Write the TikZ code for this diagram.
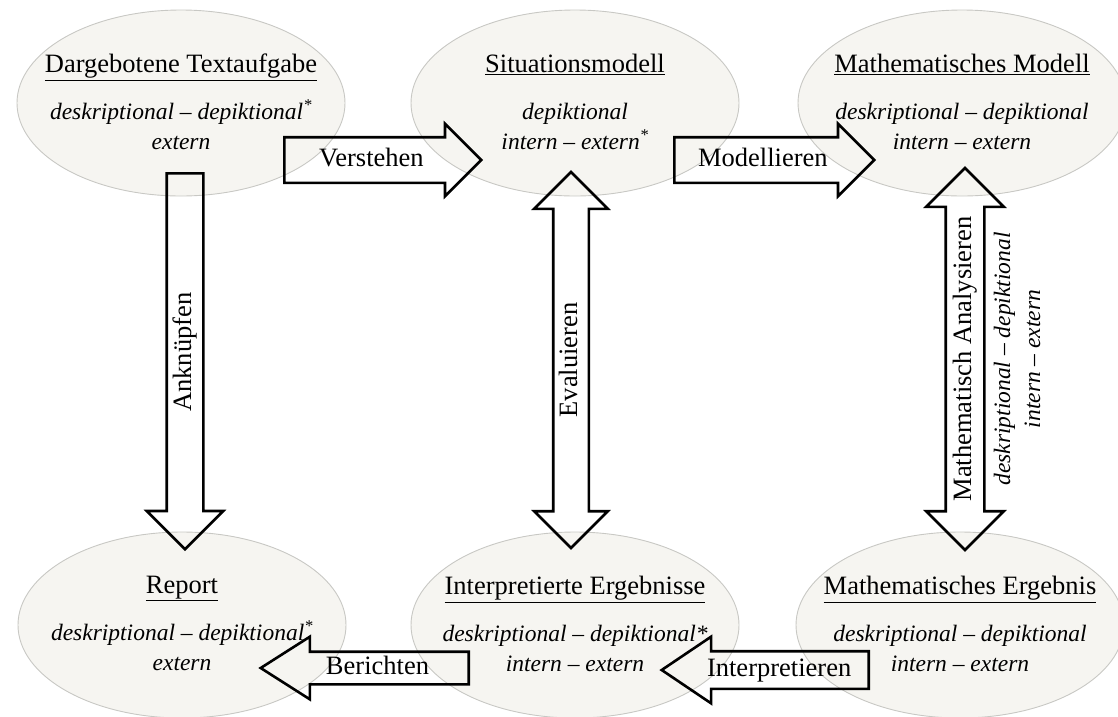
\documentclass[tikz,border=0pt]{standalone}
\usepackage{fontspec}
\setmainfont{Liberation Serif}
\usetikzlibrary{shapes.geometric,shapes.arrows,positioning}
\definecolor{ovalfill}{RGB}{246,245,241}
\definecolor{ovalline}{RGB}{200,200,196}
\newcommand{\ovalhead}[1]{{\fontsize{26.5}{30}\selectfont\upshape\underline{#1}}}
\tikzset{
  oval/.style={ellipse, draw=ovalline, fill=ovalfill, line width=0.9pt,
    minimum width=328pt, minimum height=186pt, inner sep=0pt},
  ovaltext/.style={align=center, inner sep=0pt, anchor=north,
    font=\fontsize{23.5}{30}\selectfont\itshape},
  blockarrow/.style={single arrow, draw=black, line width=2.6pt,
    font=\fontsize{26.5}{30}\selectfont, text height=17pt, text depth=5pt,
    inner xsep=4pt, single arrow head indent=0pt, single arrow tip angle=90},
  dblarrow/.style={double arrow, draw=black, line width=2.6pt,
    font=\fontsize{26.5}{30}\selectfont, text height=17pt, text depth=5pt,
    inner xsep=4pt, double arrow head indent=0pt, double arrow tip angle=90},
}

\begin{document}
\begin{tikzpicture}[x=1pt, y=-1pt]
  \useasboundingbox (0,0) rectangle (1118,716);

  \node[oval] (aufgabe) at (181,103) {};
  \node[oval] (situation) at (575,103) {};
  \node[oval] (mmodell) at (962,103) {};
  \node[oval] (report) at (182,625) {};
  \node[oval] (interp) at (575,625) {};
  \node[oval] (mergebnis) at (960,625) {};

  \node[ovaltext] (aufgabe-t) at ([yshift=49pt]aufgabe.center)
    {\ovalhead{Dargebotene Textaufgabe}\\[17pt]
     deskriptional – depiktional\textsuperscript{*}\\ extern};
  \node[ovaltext] (situation-t) at ([yshift=49pt]situation.center)
    {\ovalhead{Situationsmodell}\\[17pt]
     depiktional\\ intern – extern\textsuperscript{*}};
  \node[ovaltext] (mmodell-t) at ([yshift=49pt]mmodell.center)
    {\ovalhead{Mathematisches Modell}\\[17pt]
     deskriptional – depiktional\\ intern – extern};
  \node[ovaltext] (report-t) at ([yshift=49pt]report.center)
    {\ovalhead{Report}\\[17pt]
     deskriptional – depiktional\textsuperscript{*}\\ extern};
  \node[ovaltext] (interp-t) at ([yshift=49pt]interp.center)
    {\ovalhead{Interpretierte Ergebnisse}\\[17pt]
     deskriptional – depiktional*\\ intern – extern};
  \node[ovaltext] (mergebnis-t) at ([yshift=49pt]mergebnis.center)
    {\ovalhead{Mathematisches Ergebnis}\\[17pt]
     deskriptional – depiktional\\ intern – extern};

  \node[blockarrow, minimum height=197pt, single arrow head extend=13.5pt,
        inner ysep=10.5pt, anchor=tail] (verstehen) at (283,160) {Verstehen};
  \node[blockarrow, minimum height=200pt, single arrow head extend=13.5pt,
        inner ysep=10.5pt, anchor=tail] (modellieren) at (673,160) {Modellieren};
  \node[blockarrow, rotate=90, shape border rotate=180, minimum height=376pt,
        single arrow head extend=20pt, inner ysep=6pt, anchor=tail]
        (anknuepfen) at (185,172) {Anknüpfen};
  \node[blockarrow, shape border rotate=180, minimum height=208pt,
        single arrow tip angle=65, single arrow head extend=15pt,
        inner ysep=4pt, anchor=tail] (berichten) at (470,668) {Berichten};
  \node[blockarrow, shape border rotate=180, minimum height=207pt,
        single arrow tip angle=68, single arrow head extend=14.5pt,
        inner ysep=6.5pt, anchor=tail] (interpretieren) at (870,670) {Interpretieren};

  \node[dblarrow, rotate=90, minimum height=376pt, double arrow head extend=19pt,
        inner ysep=5.5pt] (evaluieren) at (571,360) {Evaluieren};
  \node[dblarrow, rotate=90, minimum height=382pt, double arrow head extend=19.5pt,
        inner ysep=7pt] (analysieren) at (965,359) {Mathematisch Analysieren};
  \node[rotate=90, align=center, inner sep=0pt,
        font=\fontsize{23.5}{30}\selectfont\itshape] (analysieren-t)
        at ([xshift=52pt]analysieren.center) {deskriptional – depiktional\\intern – extern};
\end{tikzpicture}
\end{document}
